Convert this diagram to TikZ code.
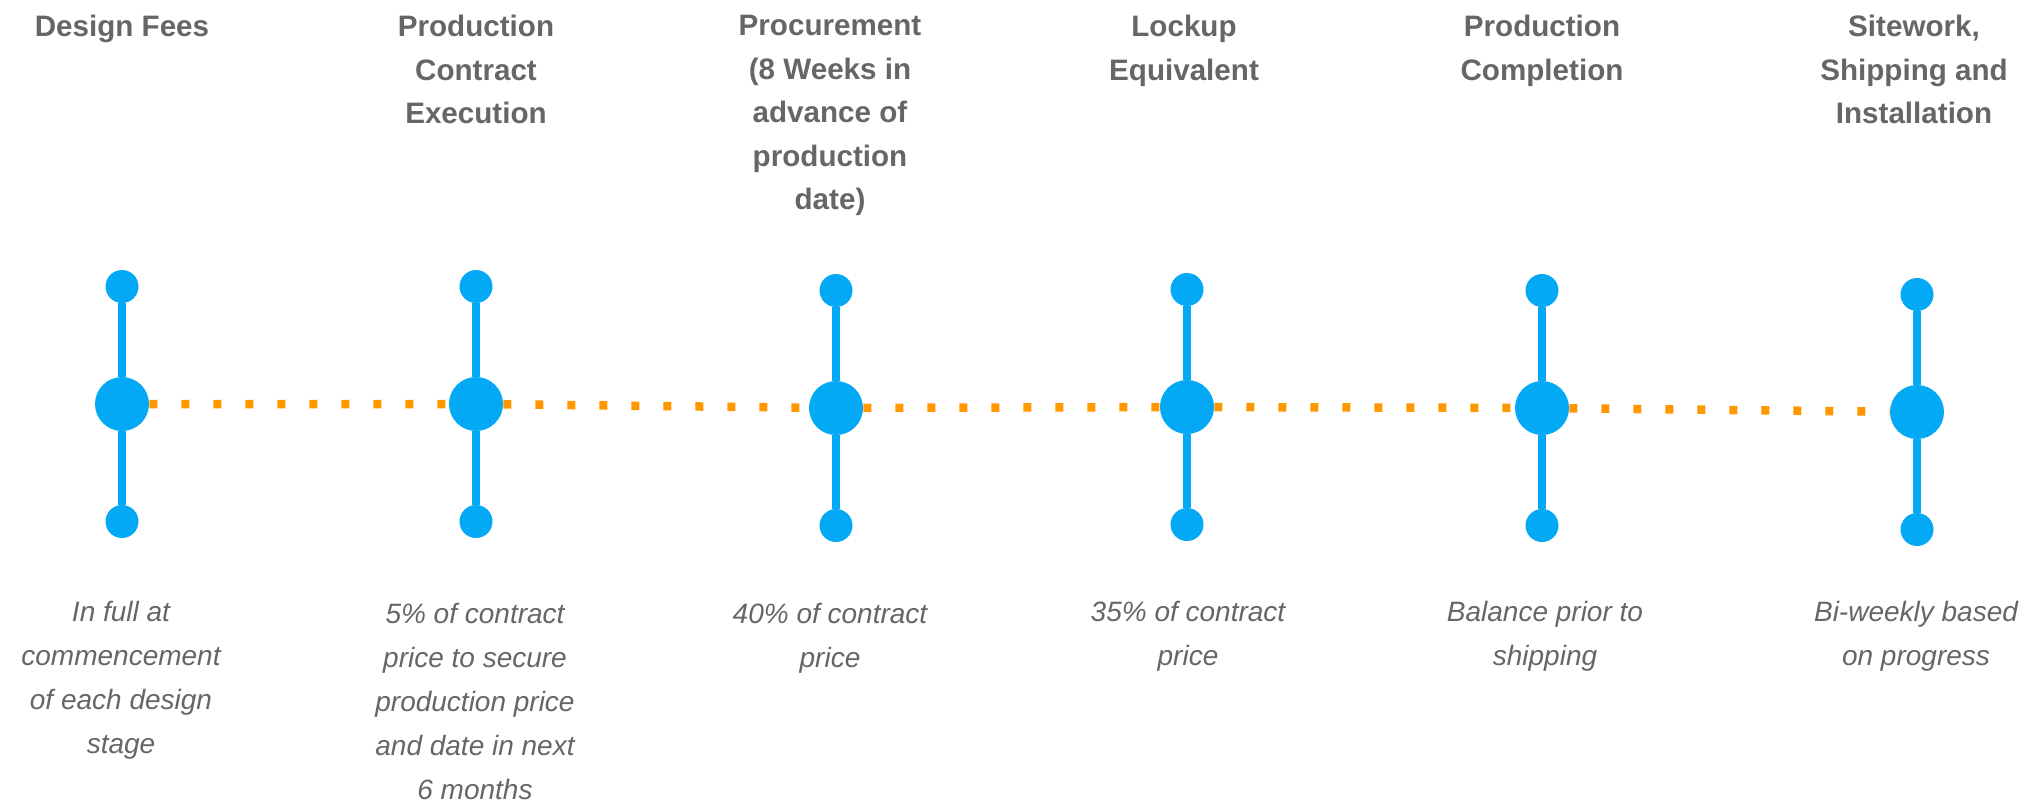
\documentclass[tikz,border=0pt]{standalone}
\usepackage{fontspec}
\setmainfont{Liberation Sans}
\usepackage{tikz}
\usetikzlibrary{positioning}
\definecolor{dotblue}{HTML}{03A9F4}
\definecolor{dotorange}{HTML}{FF9800}
\definecolor{textgray}{HTML}{666666}

\begin{document}
\begin{tikzpicture}[x=0.5pt,y=0.5pt,node distance=58.75pt,on grid,
  big/.style={circle,fill=dotblue,inner sep=0pt,minimum size=27pt},
  small/.style={circle,fill=dotblue,inner sep=0pt,minimum size=16.5pt},
  head/.style={align=center,anchor=north,inner sep=0pt,text=textgray,font=\bfseries\fontsize{14.8}{21.75}\selectfont},
  note/.style={align=center,anchor=north,inner sep=0pt,text=textgray,font=\itshape\fontsize{14}{22}\selectfont},
  stem/.style={draw=dotblue,line width=4pt},
  track/.style={draw=dotorange,line width=4.25pt,dash pattern=on 4pt off 12pt}]
\useasboundingbox (0,0) rectangle (2034,-804);
\node[big]   (m1) at (122,-404)  {};
\node[big]   (m2) at (476,-404)  {};
\node[big]   (m3) at (836,-408)  {};
\node[big]   (m4) at (1187,-407) {};
\node[big]   (m5) at (1542,-408) {};
\node[big]   (m6) at (1917,-412) {};
\node[small] (t1) [above=of m1] {};
\node[small] (t2) [above=of m2] {};
\node[small] (t3) [above=of m3] {};
\node[small] (t4) [above=of m4] {};
\node[small] (t5) [above=of m5] {};
\node[small] (t6) [above=of m6] {};
\node[small] (b1) [below=of m1] {};
\node[small] (b2) [below=of m2] {};
\node[small] (b3) [below=of m3] {};
\node[small] (b4) [below=of m4] {};
\node[small] (b5) [below=of m5] {};
\node[small] (b6) [below=of m6] {};
\draw[stem] (t1) -- (m1) (m1) -- (b1)
            (t2) -- (m2) (m2) -- (b2)
            (t3) -- (m3) (m3) -- (b3)
            (t4) -- (m4) (m4) -- (b4)
            (t5) -- (m5) (m5) -- (b5)
            (t6) -- (m6) (m6) -- (b6);
\draw[track] (m1) -- (m2) (m2) -- (m3) (m3) -- (m4) (m4) -- (m5) (m5) -- (m6);
\node[head] (h1) at (122,-15)  {Design Fees};
\node[head] (h2) at (476,-15)  {Production\\Contract\\Execution};
\node[head] (h3) at (830,-15)  {Procurement\\(8 Weeks in\\advance of\\production\\date)};
\node[head] (h4) at (1184,-15) {Lockup\\Equivalent};
\node[head] (h5) at (1542,-15) {Production\\Completion};
\node[head] (h6) at (1914,-15) {Sitework,\\Shipping and\\Installation};
\node[note] (n1) at (121,-601)  {In full at\\commencement\\of each design\\stage};
\node[note] (n2) at (475,-603)  {5\% of contract\\price to secure\\production price\\and date in next\\6 months};
\node[note] (n3) at (830,-603)  {40\% of contract\\price};
\node[note] (n4) at (1188,-601) {35\% of contract\\price};
\node[note] (n5) at (1545,-601) {Balance prior to\\shipping};
\node[note] (n6) at (1916,-601) {Bi-weekly based\\on progress};
\end{tikzpicture}
\end{document}
